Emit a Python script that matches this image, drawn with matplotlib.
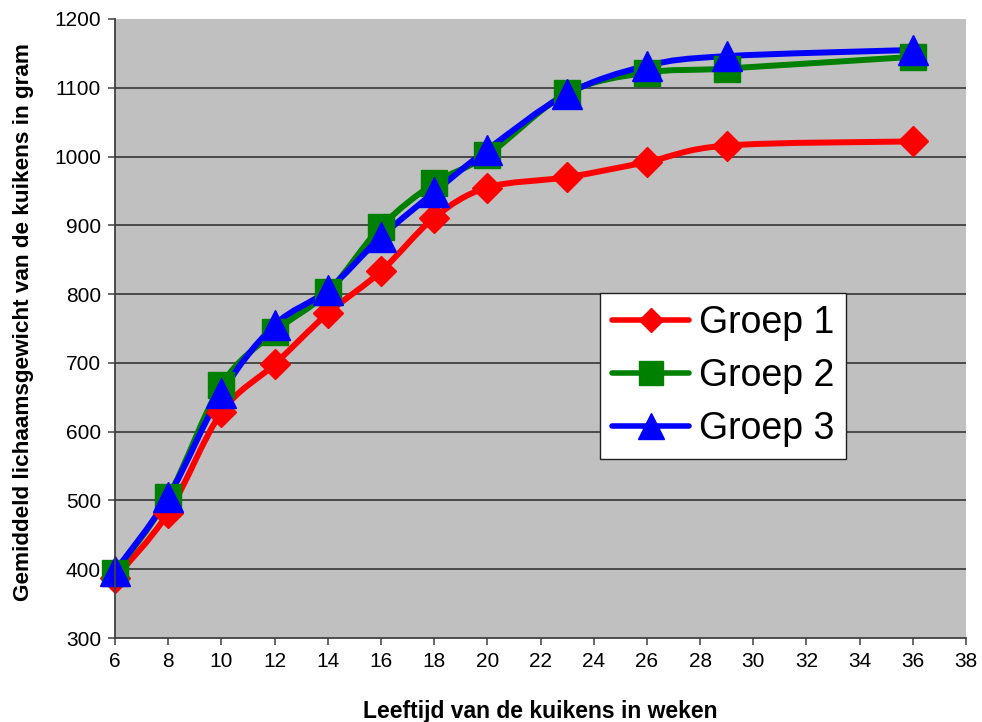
import matplotlib
matplotlib.use("Agg")
import matplotlib.pyplot as plt
import numpy as np
from matplotlib.path import Path
from matplotlib.patches import PathPatch
from matplotlib.lines import Line2D

plt.rcParams['font.family'] = ['Liberation Sans', 'DejaVu Sans']

# age of the chicks (weeks) and mean body weight (grams) per group
weeks = [6, 8, 10, 12, 14, 16, 18, 20, 23, 26, 29, 36]
groep1 = [387, 482, 628, 698, 772, 833, 911, 955, 970, 992, 1016, 1022]
groep2 = [395, 505, 668, 745, 803, 898, 961, 1002, 1092, 1122, 1128, 1145]
groep3 = [397, 505, 656, 755, 806, 883, 948, 1010, 1091, 1132, 1146, 1155]
labels = ["Groep 1", "Groep 2", "Groep 3"]

colors = ["#FF0000", "#008000", "#0000FF"]
markers = ["D", "s", "^"]
msizes = [15.5, 19, 21]
leg_msizes = [12, 17, 19]


def smooth_path(xs, ys):
    # Catmull-Rom style bezier through the points, like a spreadsheet "smoothed line"
    p = np.column_stack([xs, ys]).astype(float)
    n = len(p)
    verts = [p[0]]
    codes = [Path.MOVETO]
    for i in range(n - 1):
        p0 = p[i - 1] if i > 0 else p[i]
        p3 = p[i + 2] if i + 2 < n else p[i + 1]
        c1 = p[i] + (p[i + 1] - p0) / 6.0
        c2 = p[i + 1] - (p3 - p[i]) / 6.0
        verts += [c1, c2, p[i + 1]]
        codes += [Path.CURVE4] * 3
    return Path(verts, codes)


fig = plt.figure(figsize=(9.82, 7.22), dpi=100)
ax = fig.add_axes([115 / 982, 84 / 722, 851 / 982, 619 / 722])
ax.set_facecolor("#C0C0C0")

ax.set_xlim(6, 38)
ax.set_ylim(300, 1200)
ax.set_xticks(np.arange(6, 39, 2))
ax.set_yticks(np.arange(300, 1201, 100))

ax.grid(axis="y", color="#404040", linewidth=1.3)
ax.set_axisbelow(True)
gls = ax.get_ygridlines()
gls[0].set_visible(False)
gls[-1].set_visible(False)

for s in ["top", "right"]:
    ax.spines[s].set_visible(False)
for s in ["left", "bottom"]:
    ax.spines[s].set_color("#404040")
    ax.spines[s].set_linewidth(1.3)
ax.tick_params(axis="both", direction="out", length=5, width=1.1, color="#404040",
               labelsize=15, pad=5)

handles = []
for ys, c, m, ms, lms in zip([groep1, groep2, groep3], colors, markers, msizes, leg_msizes):
    patch = PathPatch(smooth_path(weeks, ys), facecolor="none", edgecolor=c,
                      linewidth=4.3, capstyle="round", joinstyle="round")
    ax.add_patch(patch)
    ax.plot(weeks, ys, linestyle="none", marker=m, markersize=ms,
            markerfacecolor=c, markeredgecolor=c, clip_on=False)
    handles.append(Line2D([], [], color=c, linewidth=4.0, marker=m, markersize=lms,
                          markerfacecolor=c, markeredgecolor=c,
                          solid_capstyle="round"))

leg = ax.legend(handles, labels, loc="upper left", bbox_to_anchor=(0.570, 0.557),
                fontsize=27, frameon=True, fancybox=False, framealpha=1,
                edgecolor="#202020", handlelength=2.05, handletextpad=0.26,
                borderpad=0.32, labelspacing=0.45, borderaxespad=0)
leg.get_frame().set_linewidth(1.0)

ax.set_xlabel("Leeftijd van de kuikens in weken", fontsize=16.5, fontweight="bold")
ax.set_ylabel("Gemiddeld lichaamsgewicht van de kuikens in gram", fontsize=16.2,
              fontweight="bold")
ax.xaxis.set_label_coords(0.5, -0.100)
ax.yaxis.set_label_coords(-0.0955, 0.51)

fig.savefig("out.png", dpi=100)
